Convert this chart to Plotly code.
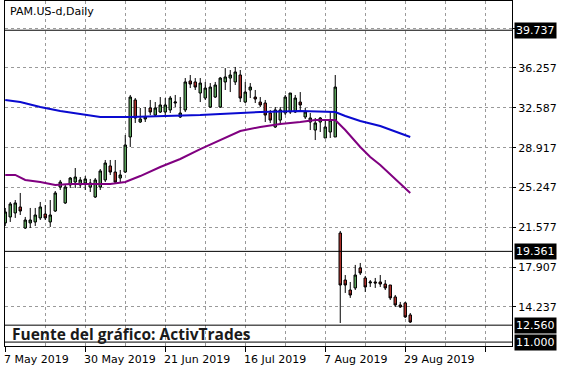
import pandas as pd
import plotly.graph_objects as go
from pandas.tseries.offsets import CustomBusinessDay

# ---- data ----
holidays = ["2019-05-27", "2019-07-04"]
dates = list(pd.date_range("2019-05-07", "2019-08-30",
                           freq=CustomBusinessDay(holidays=holidays)).strftime("%Y-%m-%d"))

opens = [21.98, 22.53, 22.90, 23.45, 21.51, 21.98, 22.07, 22.44, 22.80, 22.07,
         23.08, 25.29, 23.82, 25.48, 25.75, 25.48, 25.66, 25.29, 24.37, 25.29,
         25.94, 27.23, 26.67, 26.12, 26.67, 29.90, 33.31, 31.28, 31.56, 32.57,
         31.92, 32.20, 32.20, 32.39, 33.03, 31.74, 32.39, 35.06, 34.97, 33.95,
         33.49, 32.66, 33.58, 32.66, 34.97, 35.33, 34.97, 35.61, 33.12, 34.23,
         33.58, 33.12, 33.03, 32.11, 30.82, 31.46, 32.11, 32.20, 32.20, 33.12,
         31.74, 31.28, 30.54, 31.28, 29.81, 30.36, 29.90, 21.05, 16.72, 15.80,
         15.99, 17.83, 16.91, 16.45, 16.54, 16.54, 16.35, 16.26, 15.16, 14.42,
         14.61, 13.50]
highs = [23.36, 23.91, 24.09, 24.74, 22.53, 23.36, 23.36, 23.91, 23.63, 24.09,
         24.92, 25.94, 25.48, 26.21, 27.04, 26.21, 26.30, 26.03, 26.12, 26.95,
         27.78, 27.78, 27.78, 26.86, 30.08, 33.77, 33.49, 32.57, 32.66, 33.31,
         33.12, 33.58, 33.49, 33.68, 33.77, 33.58, 35.33, 35.61, 35.33, 35.33,
         34.97, 34.87, 34.97, 35.43, 36.25, 36.07, 36.35, 36.07, 34.97, 34.87,
         34.23, 33.58, 33.31, 32.39, 32.66, 32.66, 33.77, 33.95, 33.77, 34.04,
         32.57, 32.11, 31.65, 31.74, 31.46, 32.20, 35.61, 21.24, 17.18, 16.54,
         18.11, 18.29, 17.09, 16.72, 16.91, 17.18, 16.72, 16.26, 15.34, 14.70,
         14.70, 13.68]
lows = [21.70, 22.07, 22.44, 22.71, 21.42, 21.51, 21.70, 22.25, 22.25, 21.61,
        22.99, 25.02, 23.73, 25.20, 25.20, 25.20, 25.02, 24.83, 24.28, 25.02,
        25.75, 26.40, 25.66, 25.75, 26.58, 28.98, 31.19, 31.19, 31.28, 31.92,
        31.74, 32.11, 31.92, 32.11, 32.66, 31.65, 32.20, 34.41, 34.23, 33.12,
        33.31, 32.57, 33.49, 32.57, 34.23, 34.04, 34.69, 33.12, 33.03, 33.49,
        33.03, 32.66, 31.28, 31.19, 30.73, 31.00, 31.92, 32.02, 32.11, 32.39,
        31.56, 30.54, 29.62, 30.36, 29.81, 29.81, 29.90, 12.76, 15.53, 15.07,
        15.80, 17.18, 15.62, 16.08, 15.99, 16.08, 15.80, 14.88, 14.24, 14.15,
        13.22, 12.76]
closes = [22.99, 23.73, 23.82, 23.08, 22.25, 22.25, 22.71, 23.45, 22.44, 22.71,
          24.74, 25.75, 25.29, 26.12, 26.21, 25.94, 26.03, 25.66, 25.94, 26.77,
          27.50, 26.67, 25.75, 26.40, 29.16, 33.58, 31.65, 31.56, 31.74, 32.20,
          32.57, 32.85, 32.85, 33.49, 33.12, 32.11, 34.97, 34.78, 34.50, 34.87,
          34.41, 34.50, 34.69, 35.33, 35.43, 35.61, 35.89, 33.49, 34.04, 34.50,
          33.40, 32.85, 31.92, 31.46, 32.39, 32.39, 33.58, 33.95, 33.49, 32.85,
          32.20, 31.65, 31.19, 31.65, 30.82, 31.46, 34.50, 16.26, 16.26, 15.34,
          17.18, 17.37, 16.08, 16.54, 16.45, 16.35, 15.99, 15.07, 14.42, 14.24,
          13.32, 12.85]

ma_blue_dates = ["2019-05-07", "2019-05-10", "2019-05-16", "2019-05-22", "2019-05-29",
                 "2019-06-04", "2019-06-12", "2019-06-26", "2019-07-02", "2019-07-09",
                 "2019-07-19", "2019-07-31", "2019-08-09", "2019-08-13", "2019-08-16",
                 "2019-08-22", "2019-08-28", "2019-08-30"]
ma_blue = [33.31, 33.12, 32.66, 32.29, 32.02, 31.74, 31.74, 31.83, 31.92, 32.02,
           32.20, 32.29, 32.20, 31.83, 31.37, 30.91, 30.27, 29.90]

ma_purple_dates = ["2019-05-07", "2019-05-09", "2019-05-13", "2019-05-16", "2019-05-21",
                   "2019-05-24", "2019-05-31", "2019-06-06", "2019-06-11", "2019-06-14",
                   "2019-06-20", "2019-06-26", "2019-07-02", "2019-07-09", "2019-07-15",
                   "2019-07-19", "2019-07-25", "2019-07-31", "2019-08-05", "2019-08-09",
                   "2019-08-13", "2019-08-16", "2019-08-20", "2019-08-22", "2019-08-30"]
ma_purple = [26.40, 26.40, 25.94, 25.75, 25.48, 25.57, 25.57, 25.57, 25.75, 26.30,
             27.13, 27.87, 28.79, 29.62, 30.45, 30.82, 31.10, 31.28, 31.46, 31.46,
             30.54, 28.98, 28.06, 27.32, 24.74]

hlines = [39.737, 19.361, 12.560, 11.000]
grid_prices = [10.567, 14.237, 17.907, 21.577, 25.247, 28.917, 32.587, 36.257, 39.927]
grid_labels = ["", "14.237", "17.907", "21.577", "25.247", "28.917", "32.587", "36.257", ""]
date_tick_dates = ["2019-05-07", "2019-05-30", "2019-06-21", "2019-07-16", "2019-08-07", "2019-08-29"]
date_tick_labels = ["7 May 2019", "30 May 2019", "21 Jun 2019", "16 Jul 2019", "7 Aug 2019", "29 Aug 2019"]
title_text = "PAM.US-d,Daily"
source_text = "Fuente del gráfico: ActivTrades"

# ---- figure ----
idx = {d: i for i, d in enumerate(dates)}
xs = list(range(len(dates)))
FONT = "DejaVu Sans"
GRID = "#9a9a9a"

fig = go.Figure()
fig.add_trace(go.Candlestick(
    x=xs, open=opens, high=highs, low=lows, close=closes, text=dates,
    increasing=dict(line=dict(color="black", width=1), fillcolor="#5ba55b"),
    decreasing=dict(line=dict(color="black", width=1), fillcolor="#b0302a"),
    whiskerwidth=0, showlegend=False))
fig.add_trace(go.Scatter(x=[idx[d] for d in ma_blue_dates], y=ma_blue, mode="lines",
                         line=dict(color="#0a0ad0", width=2), showlegend=False))
fig.add_trace(go.Scatter(x=[idx[d] for d in ma_purple_dates], y=ma_purple, mode="lines",
                         line=dict(color="#800080", width=2), showlegend=False))

for v in hlines:
    fig.add_shape(type="line", xref="paper", x0=0, x1=1, yref="y", y0=v, y1=v,
                  line=dict(color="black", width=1))
    fig.add_annotation(x=1, xref="paper", y=v, yref="y", text=f"{v:.3f}",
                       xanchor="left", xshift=2, showarrow=False, bgcolor="black",
                       borderpad=1, font=dict(family=FONT, size=11, color="white"))

tick_idx = [idx[d] for d in date_tick_dates]
major = list(range(0, 102, 16))
minor = list(range(8, 102, 16))
for i, lab in zip(tick_idx, date_tick_labels):
    fig.add_annotation(x=i, xref="x", y=0, yref="paper", text=lab, xanchor="left",
                       yanchor="top", xshift=-3, yshift=-5, showarrow=False,
                       font=dict(family=FONT, size=11, color="black"))

fig.add_annotation(x=0, xref="paper", y=1, yref="paper", text=title_text,
                   xanchor="left", yanchor="top", xshift=3, yshift=-2, showarrow=False,
                   font=dict(family=FONT, size=11, color="black"))
fig.add_annotation(x=0, xref="paper", y=(hlines[2] + hlines[3]) / 2, yref="y",
                   text=f"<b>{source_text}</b>", xanchor="left", xshift=6,
                   showarrow=False, borderpad=0,
                   font=dict(family="Open Sans", size=15.5, color="#1a1a1a"))

fig.update_layout(
    width=567, height=375, autosize=False,
    margin=dict(l=5, r=55, t=1, b=29),
    paper_bgcolor="white", plot_bgcolor="white",
    xaxis=dict(range=[-0.05, 101.35], rangeslider=dict(visible=False),
               showline=True, mirror=True, linecolor="black", linewidth=1,
               tickmode="array", tickvals=major, showticklabels=False,
               ticks="outside", ticklen=5, tickcolor="black",
               showgrid=True, gridcolor=GRID, griddash="3px,3px", gridwidth=1,
               zeroline=False,
               minor=dict(tickvals=minor, showgrid=True, gridcolor=GRID,
                          griddash="3px,3px", ticks="")),
    yaxis=dict(range=[10.64, 42.43], side="right", tickmode="array",
               tickvals=grid_prices, ticktext=grid_labels,
               ticks="outside", ticklen=3, tickcolor="black",
               tickfont=dict(family=FONT, size=11, color="black"),
               showline=True, mirror=True, linecolor="black", linewidth=1,
               showgrid=True, gridcolor=GRID, griddash="3px,3px", zeroline=False),
    hovermode=False,
)

fig.write_html("out.html", config={"displayModeBar": False},
               post_script="document.body.style.margin='0';document.body.style.padding='0';")
